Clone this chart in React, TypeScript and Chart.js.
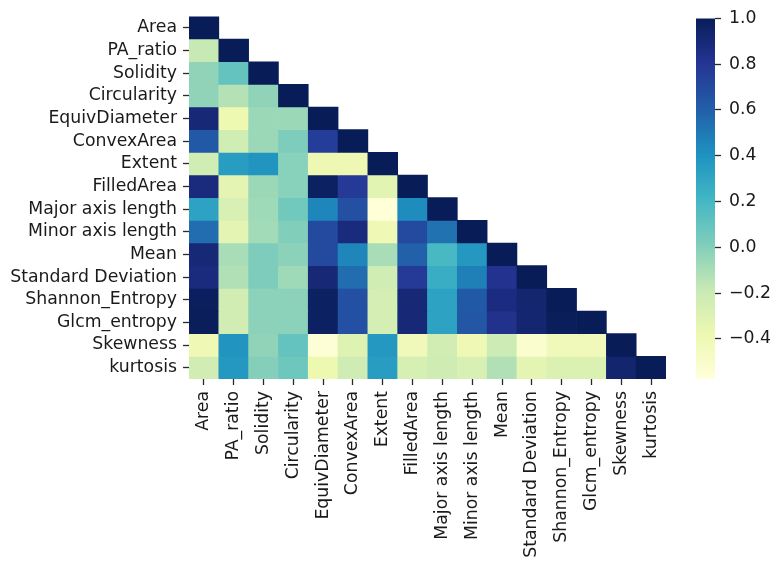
import React, { useEffect, useRef } from "react";
import { Chart, registerables } from "chart.js";

Chart.register(...registerables);

const LABELS = [
  "Area",
  "PA_ratio",
  "Solidity",
  "Circularity",
  "EquivDiameter",
  "ConvexArea",
  "Extent",
  "FilledArea",
  "Major axis length",
  "Minor axis length",
  "Mean",
  "Standard Deviation",
  "Shannon_Entropy",
  "Glcm_entropy",
  "Skewness",
  "kurtosis",
];

// lower triangle of the correlation matrix (row r holds columns 0..r)
const CORR_ROWS: number[][] = [
  [1.0],
  [-0.18, 1.0],
  [-0.03, 0.1, 1.0],
  [-0.03, -0.13, -0.03, 1.0],
  [0.9, -0.38, -0.06, -0.06, 1.0],
  [0.63, -0.23, -0.06, 0.02, 0.76, 1.0],
  [-0.23, 0.35, 0.39, -0.01, -0.39, -0.39, 1.0],
  [0.88, -0.33, -0.06, -0.01, 0.97, 0.78, -0.32, 1.0],
  [0.32, -0.27, -0.07, 0.06, 0.45, 0.67, -0.57, 0.43, 1.0],
  [0.55, -0.33, -0.08, 0.01, 0.7, 0.88, -0.4, 0.7, 0.53, 1.0],
  [0.9, -0.1, 0.02, -0.02, 0.7, 0.45, -0.1, 0.6, 0.19, 0.37, 1.0],
  [0.88, -0.12, 0.02, -0.07, 0.9, 0.55, -0.23, 0.78, 0.26, 0.48, 0.82, 1.0],
  [0.98, -0.24, -0.02, -0.02, 0.97, 0.67, -0.25, 0.9, 0.32, 0.63, 0.87, 0.92, 1.0],
  [0.99, -0.24, -0.02, -0.02, 0.97, 0.67, -0.25, 0.9, 0.32, 0.64, 0.83, 0.92, 0.99, 1.0],
  [-0.4, 0.39, -0.03, 0.1, -0.56, -0.3, 0.37, -0.42, -0.24, -0.4, -0.21, -0.52, -0.42, -0.42, 1.0],
  [-0.24, 0.37, 0.0, 0.07, -0.38, -0.22, 0.35, -0.26, -0.22, -0.27, -0.12, -0.33, -0.28, -0.28, 0.93, 1.0],
];

const VMIN = -0.575;
const VMAX = 1.0;
const CBAR_TICKS = [-0.4, -0.2, 0.0, 0.2, 0.4, 0.6, 0.8, 1.0];

const YLGNBU = [
  "#ffffd9",
  "#edf8b1",
  "#c7e9b4",
  "#7fcdbb",
  "#41b6c4",
  "#1d91c0",
  "#225ea8",
  "#253494",
  "#081d58",
];

function hexToRgb(h: string): number[] {
  const n = parseInt(h.slice(1), 16);
  return [(n >> 16) & 255, (n >> 8) & 255, n & 255];
}

function colorFor(v: number): string {
  let t = (v - VMIN) / (VMAX - VMIN);
  t = Math.max(0, Math.min(1, t));
  const pos = t * (YLGNBU.length - 1);
  const i = Math.min(Math.floor(pos), YLGNBU.length - 2);
  const f = pos - i;
  const a = hexToRgb(YLGNBU[i]);
  const b = hexToRgb(YLGNBU[i + 1]);
  const c = a.map((x, k) => Math.round(x + (b[k] - x) * f));
  return `rgb(${c[0]},${c[1]},${c[2]})`;
}

const FONT = { family: "'DejaVu Sans', sans-serif", size: 17.3 };
const TEXT_COLOR = "#1a1a1a";
const TICK_COLOR = "#2a2a2a";

const W = 778;
const H = 562;

export default function App() {
  const mainRef = useRef<HTMLCanvasElement | null>(null);
  const cbRef = useRef<HTMLCanvasElement | null>(null);

  useEffect(() => {
    document.body.style.margin = "0";
    if (!mainRef.current || !cbRef.current) return;

    const datasets = CORR_ROWS.map((row, r) => ({
      label: LABELS[r],
      data: LABELS.map((_, c) => (c < row.length ? [r, r + 1] : null)),
      backgroundColor: LABELS.map((_, c) =>
        c < row.length ? colorFor(row[c]) : "rgba(0,0,0,0)"
      ),
      borderWidth: 0,
      barPercentage: 1,
      categoryPercentage: 1,
      grouped: false,
    }));

    const main = new Chart(mainRef.current, {
      type: "bar",
      data: { labels: LABELS, datasets: datasets as any },
      options: {
        responsive: false,
        animation: false,
        events: [],
        layout: { padding: { left: 0, top: 10.7, right: 112, bottom: 0 } },
        plugins: { legend: { display: false }, tooltip: { enabled: false } },
        scales: {
          x: {
            type: "category",
            offset: true,
            grid: {
              offset: false,
              drawOnChartArea: false,
              drawTicks: true,
              tickLength: 6,
              tickWidth: 1.3,
              tickColor: TICK_COLOR,
            },
            border: { display: false },
            ticks: {
              autoSkip: false,
              maxRotation: 90,
              minRotation: 90,
              padding: 6,
              color: TEXT_COLOR,
              font: FONT,
            },
            afterFit: (s: any) => {
              s.height = 183;
            },
          },
          y: {
            type: "linear",
            min: 0,
            max: 16,
            reverse: true,
            afterBuildTicks: (s: any) => {
              s.ticks = LABELS.map((_, i) => ({ value: i + 0.5 }));
            },
            grid: {
              drawOnChartArea: false,
              drawTicks: true,
              tickLength: 6,
              tickWidth: 1.3,
              tickColor: TICK_COLOR,
            },
            border: { display: false },
            ticks: {
              autoSkip: false,
              padding: 6,
              color: TEXT_COLOR,
              font: FONT,
              callback: (v: any) => LABELS[Math.floor(Number(v))],
            },
            afterFit: (s: any) => {
              s.width = 189;
            },
          },
        },
      } as any,
    });

    const cb = new Chart(cbRef.current, {
      type: "bar",
      data: {
        labels: [""],
        datasets: [
          {
            data: [[VMIN, VMAX]] as any,
            backgroundColor: (ctx: any) => {
              const chart = ctx.chart;
              const ys = chart.scales.y;
              if (!chart.chartArea || !ys) return YLGNBU[4];
              const g = chart.ctx.createLinearGradient(
                0,
                ys.getPixelForValue(VMIN),
                0,
                ys.getPixelForValue(VMAX)
              );
              YLGNBU.forEach((c, i) => g.addColorStop(i / (YLGNBU.length - 1), c));
              return g;
            },
            borderWidth: 0,
            barPercentage: 1,
            categoryPercentage: 1,
          },
        ],
      },
      options: {
        responsive: false,
        animation: false,
        events: [],
        layout: { padding: { left: 696, top: 10.7, right: 0, bottom: 183 } },
        plugins: { legend: { display: false }, tooltip: { enabled: false } },
        scales: {
          x: { display: false },
          y: {
            position: "right",
            min: VMIN,
            max: VMAX,
            afterBuildTicks: (s: any) => {
              s.ticks = CBAR_TICKS.map((v) => ({ value: v }));
            },
            grid: {
              drawOnChartArea: false,
              drawTicks: true,
              tickLength: 6,
              tickWidth: 1.3,
              tickColor: TICK_COLOR,
            },
            border: { display: false },
            ticks: {
              padding: 8,
              color: TEXT_COLOR,
              font: FONT,
              callback: (v: any) => {
                const n = Number(v);
                if (Math.abs(n) < 1e-9) return "0.0";
                return (n < 0 ? "\u2212" : "") + Math.abs(n).toFixed(1);
              },
            },
            afterFit: (s: any) => {
              s.width = W - 715;
            },
          },
        },
      } as any,
    });

    return () => {
      main.destroy();
      cb.destroy();
    };
  }, []);

  return (
    <div style={{ position: "relative", width: W, height: H, background: "#fff" }}>
      <canvas
        ref={mainRef}
        width={W}
        height={H}
        style={{ position: "absolute", left: 0, top: 0 }}
      />
      <canvas
        ref={cbRef}
        width={W}
        height={H}
        style={{ position: "absolute", left: 0, top: 0 }}
      />
    </div>
  );
}
